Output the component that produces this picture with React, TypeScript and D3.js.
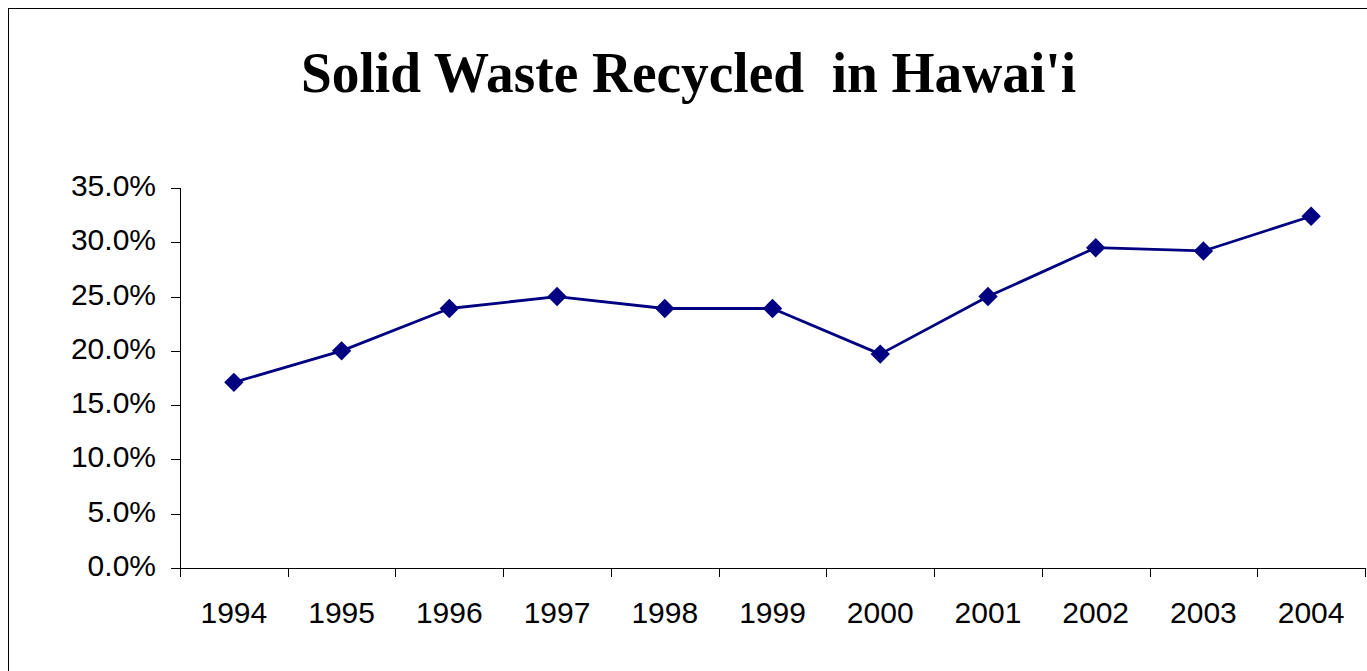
import React from "react";
import * as d3 from "d3";

const years = ["1994", "1995", "1996", "1997", "1998", "1999", "2000", "2001", "2002", "2003", "2004"];
const recycledPct = [17.1, 20.0, 23.9, 25.0, 23.9, 23.9, 19.7, 25.0, 29.5, 29.2, 32.4];
const yTicks = [0, 5, 10, 15, 20, 25, 30, 35];
const title = "Solid Waste Recycled  in Hawai'i";

const W = 1367;
const H = 671;
const plot = { left: 180, right: 1365, top: 188, bottom: 568 };
const navy = "#000080";

export default function App() {
  const x = d3.scaleBand<string>().domain(years).range([plot.left, plot.right]);
  const y = d3.scaleLinear().domain([0, 35]).range([plot.bottom, plot.top]);

  const line = d3
    .line<number>()
    .x((_, i) => (x(years[i]) as number) + x.bandwidth() / 2)
    .y((d) => y(d));

  const diamond = d3.symbol().type(d3.symbolDiamond2).size(240)();

  const xTickPositions = [...years.map((yr) => x(yr) as number), plot.right];

  return (
    <div style={{ position: "fixed", left: 0, top: 0, width: W, height: H, overflow: "hidden", background: "#fff" }}>
      <svg width={W} height={H} style={{ display: "block" }}>
        <rect x={8.5} y={8.5} width={W + 20} height={H + 20} fill="#fff" stroke="#000" strokeWidth={1} />

        <text
          x={301}
          y={92}
          fontFamily="'Liberation Serif', 'Times New Roman', serif"
          fontWeight="bold"
          fontSize={56}
          textLength={775}
          lengthAdjust="spacingAndGlyphs"
          fill="#000"
          style={{ whiteSpace: "pre" }}
        >
          {title}
        </text>

        {/* Y axis */}
        <line x1={plot.left + 0.5} x2={plot.left + 0.5} y1={plot.top} y2={plot.bottom} stroke="#000" strokeWidth={1} />
        {yTicks.map((t) => (
          <g key={t}>
            <line
              x1={plot.left - 9}
              x2={plot.left}
              y1={Math.round(y(t)) + 0.5}
              y2={Math.round(y(t)) + 0.5}
              stroke="#000"
              strokeWidth={1}
            />
            <text
              x={156}
              y={y(t) + 8}
              textAnchor="end"
              fontFamily="'Liberation Sans', Arial, sans-serif"
              fontSize={30}
              fill="#000"
            >
              {t.toFixed(1) + "%"}
            </text>
          </g>
        ))}

        {/* X axis */}
        <line x1={plot.left} x2={plot.right + 1} y1={plot.bottom + 0.5} y2={plot.bottom + 0.5} stroke="#000" strokeWidth={1} />
        {xTickPositions.map((px, i) => (
          <line
            key={i}
            x1={Math.round(px) + 0.5}
            x2={Math.round(px) + 0.5}
            y1={plot.bottom}
            y2={plot.bottom + 9}
            stroke="#000"
            strokeWidth={1}
          />
        ))}
        {years.map((yr) => (
          <text
            key={yr}
            x={(x(yr) as number) + x.bandwidth() / 2}
            y={623}
            textAnchor="middle"
            fontFamily="'Liberation Sans', Arial, sans-serif"
            fontSize={30}
            fill="#000"
          >
            {yr}
          </text>
        ))}

        {/* Series */}
        <path d={line(recycledPct) || ""} fill="none" stroke={navy} strokeWidth={2.8} strokeLinejoin="round" />
        {recycledPct.map((v, i) => (
          <path
            key={i}
            d={diamond || ""}
            transform={`translate(${(x(years[i]) as number) + x.bandwidth() / 2},${y(v)})`}
            fill={navy}
          />
        ))}
      </svg>
    </div>
  );
}
